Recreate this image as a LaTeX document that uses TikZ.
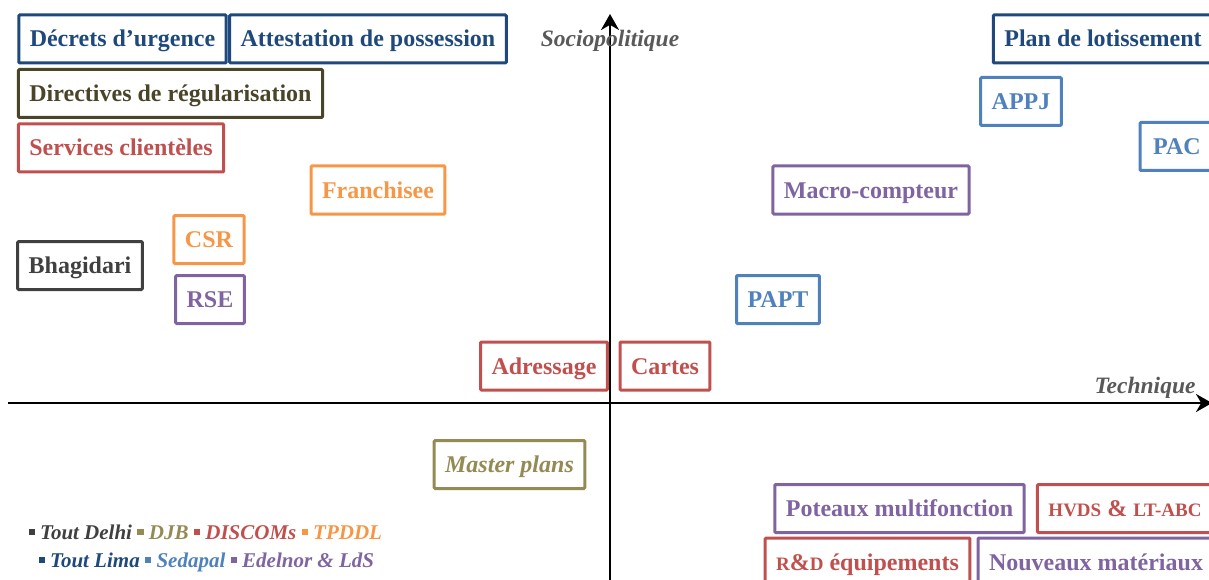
\documentclass[tikz,border=0pt]{standalone}
\usepackage{fontspec}
\setmainfont{Liberation Serif}
\usepackage{xcolor}
\usetikzlibrary{positioning,arrows.meta}

\definecolor{dblue}{HTML}{1F497D}
\definecolor{lblue}{HTML}{4F81BD}
\definecolor{dolive}{HTML}{4A4529}
\definecolor{olive}{HTML}{948A54}
\definecolor{rouge}{HTML}{C0504D}
\definecolor{orange}{HTML}{F79646}
\definecolor{violet}{HTML}{8064A2}
\definecolor{gris}{HTML}{404040}
\definecolor{axegris}{HTML}{595959}

\newcommand{\legsq}[1]{\textcolor{#1}{\rule[0.18em]{0.3em}{0.3em}}}
\newcommand{\petit}[1]{{\fontsize{19}{20}\selectfont #1}}

\begin{document}
\begin{tikzpicture}[x=1pt,y=-1pt,
    box/.style={draw=#1, text=#1, line width=3pt, rounded corners=1pt,
      minimum height=48pt, inner xsep=11pt,
      text height=21pt, text depth=5pt,
      font=\bfseries\fontsize{24}{28}\selectfont},
    axis/.style={line width=2.5pt, -{Stealth[length=16pt,width=18pt]}},
    axislabel/.style={text=axegris, font=\bfseries\itshape\fontsize{23.5}{28}\selectfont},
    legend/.style={anchor=west, font=\bfseries\itshape\fontsize{21}{24}\selectfont}]
\useasboundingbox (0,0) rectangle (1209,580);

% axes
\coordinate (ybot) at (610,582);
\coordinate (ytop) at (610,14);
\coordinate (xleft) at (8,403);
\coordinate (xright) at (1212,403);
\draw[axis] (ybot) -- (ytop);
\draw[axis] (xleft) -- (xright);
\node (sociopol) at (610,41) [axislabel]{Sociopolitique};
\node (techn) at (1145,388) [axislabel]{Technique};

% upper left
\node (decrets) at (122.5,39) [box=dblue]{Décrets d’urgence};
\node (attest) at (368,39) [box=dblue]{Attestation de possession};
\node (directives) at (170.5,93.5) [box=dolive]{Directives de régularisation};
\node (services) at (121,148) [box=rouge]{Services clientèles};
\node (franchisee) at (378,190) [box=orange]{Franchisee};
\node (csr) at (209,239.5) [box=orange]{CSR};
\node (bhagidari) at (80,265.5) [box=gris]{Bhagidari};
\node (rse) at (210,299.5) [box=violet]{RSE};
\node (adressage) at (544,366) [box=rouge]{Adressage};

% upper right
\node (cartes) at (665,366) [box=rouge]{Cartes};
\node (papt) at (778,299.5) [box=lblue]{PAPT};
\node (macro) at (871,190) [box=violet]{Macro-compteur};
\node (appj) at (1021,101.5) [box=lblue]{APPJ};
\node (pac) at (1177,146.5) [box=lblue, minimum width=74pt]{PAC};
\node (plan) at (1103,39) [box=dblue]{Plan de lotissement};

% lower half
\node (master) at (509.5,464.5) [box=olive, font=\bfseries\itshape\fontsize{24}{28}\selectfont]{Master plans};
\node (poteaux) at (899.5,508.5) [box=violet]{Poteaux multifonction};
\node (hvds) at (1125,508.5) [box=rouge]{\petit{HVDS} \& \petit{LT-ABC}};
\node (rnd) at (867.5,562) [box=rouge]{\petit{R}\&\petit{D} équipements};
\node (nouveaux) at (1096,562) [box=violet]{Nouveaux matériaux};

% legend
\node (legdelhi) at (25,532) [legend]{\legsq{gris} \textcolor{gris}{Tout Delhi}
  \legsq{olive} \textcolor{olive}{DJB}
  \legsq{rouge} \textcolor{rouge}{DISCOMs}
  \legsq{orange} \textcolor{orange}{TPDDL}};
\node (leglima) at (35,562) [legend]{\legsq{dblue} \textcolor{dblue}{Tout Lima}
  \legsq{lblue} \textcolor{lblue}{Sedapal}
  \legsq{violet} \textcolor{violet}{Edelnor \& LdS}};
\end{tikzpicture}
\end{document}
